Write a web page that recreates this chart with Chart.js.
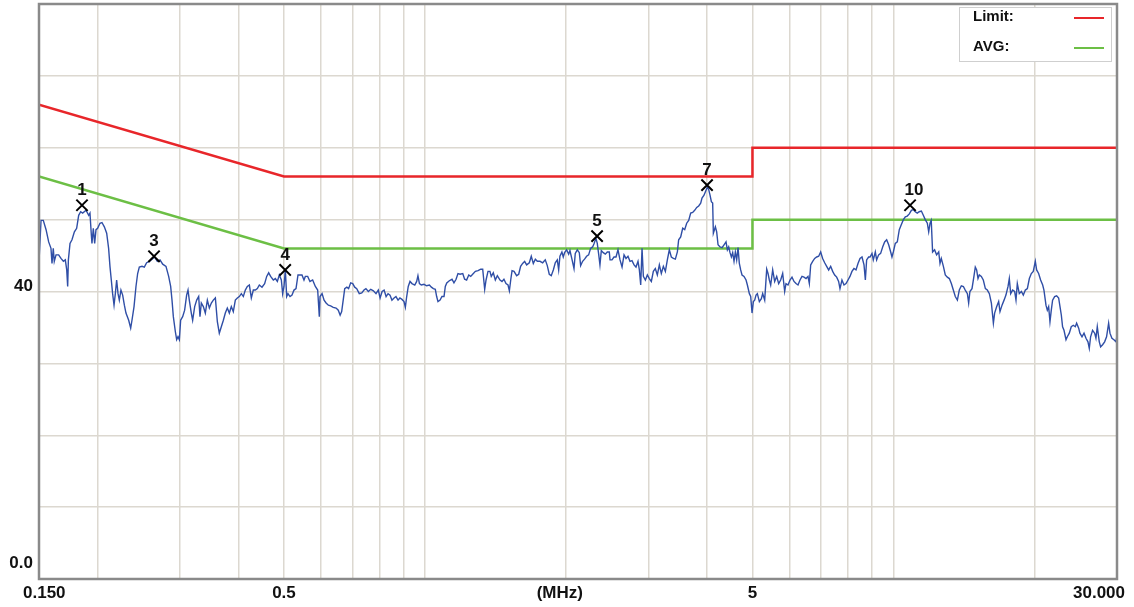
<!DOCTYPE html>
<html>
<head>
<meta charset="utf-8">
<title>Conducted emission scan</title>
<script src="https://cdn.jsdelivr.net/npm/chart.js@4.4.1/dist/chart.umd.min.js"></script>
<style>
  html, body { margin: 0; padding: 0; background: #fff; }
  #wrap { width: 1134px; height: 607px; }
</style>
</head>
<body>
<div id="wrap"><canvas id="scan" width="1134" height="607"></canvas></div>
<script>
// ── Data (MHz / dBuV) ─────────────────────────────────────────
const limitFreq = [0.15, 0.5, 5, 5, 30];
const limitLevel = [66, 56, 56, 60, 60];
const avgFreq = [0.15, 0.5, 5, 5, 30];
const avgLevel = [56, 46, 46, 50, 50];

const markerFreq = [0.1853, 0.264, 0.503, 2.33, 4.0, 10.85];
const markerLevel = [52.0, 44.9, 43.0, 47.7, 54.8, 52.0];
const markerNames = ['1', '3', '4', '5', '7', '10'];

const xGrid = [0.15, 0.2, 0.3, 0.4, 0.5, 0.6, 0.7, 0.8, 0.9, 1, 2, 3, 4, 5, 6, 7, 8, 9, 10, 20, 30];
const xLabelValues = [0.15, 0.5, 1.94, 5, 30];
const xLabelTexts = ['0.150', '0.5', '(MHz)', '5', '30.000'];
const yLabelValues = [0, 40];
const yLabelTexts = ['0.0', '40'];

// measured trace [MHz, dBuV]
const emission = [
  [0.150,44.1],[0.1515,49.9],[0.1532,49.9],[0.1553,48.6],[0.1573,46.9],[0.1591,46.0],[0.1599,43.9],[0.1609,46.0],[0.1617,44.2],[0.1631,45.1],
  [0.1652,45.1],[0.1671,44.6],[0.1691,44.2],[0.1707,44.4],[0.1719,43.0],[0.1727,40.7],[0.1733,44.4],[0.1747,46.7],[0.1764,47.2],[0.1785,48.3],
  [0.1805,48.8],[0.1823,50.6],[0.1841,51.1],[0.1859,50.9],[0.189,51.3],[0.1915,50.6],[0.1927,50.9],[0.194,47.9],[0.1946,46.7],[0.1959,48.8],
  [0.1972,46.7],[0.1985,48.6],[0.2001,48.8],[0.2024,49.5],[0.2044,49.6],[0.2068,49.0],[0.2092,48.1],[0.2112,46.0],[0.2126,43.5],[0.214,41.6],
  [0.2154,39.7],[0.2169,38.1],[0.2183,39.7],[0.2197,41.6],[0.2212,39.7],[0.2226,38.8],[0.2244,40.2],[0.2263,39.5],[0.2282,38.1],[0.230,37.0],
  [0.2331,36.0],[0.2354,34.9],[0.2369,36.0],[0.2393,37.9],[0.2416,40.7],[0.2436,42.5],[0.2456,43.4],[0.2489,43.5],[0.2517,43.4],[0.2546,44.0],
  [0.258,44.2],[0.2614,44.5],[0.2648,44.8],[0.2683,44.2],[0.2719,44.4],[0.2755,43.8],[0.28,43.5],[0.2837,42.1],[0.2865,40.7],[0.2884,38.8],
  [0.2903,36.5],[0.2932,34.4],[0.2951,33.3],[0.297,33.7],[0.299,33.3],[0.3009,36.0],[0.3039,36.5],[0.3069,37.4],[0.3099,39.5],[0.312,40.2],
  [0.314,38.8],[0.3171,37.0],[0.3192,36.0],[0.3224,37.9],[0.3256,38.8],[0.3288,39.3],[0.3309,36.5],[0.3331,38.4],[0.3364,37.9],[0.3397,37.0],
  [0.3431,38.8],[0.3465,37.7],[0.3499,38.4],[0.3533,38.8],[0.3569,39.1],[0.3604,35.8],[0.3639,34.2],[0.3675,35.1],[0.3712,36.0],[0.3748,37.0],
  [0.3785,37.7],[0.3823,37.0],[0.386,37.9],[0.3898,37.2],[0.3937,38.8],[0.3976,39.1],[0.4015,39.3],[0.4055,39.7],[0.4095,39.3],[0.4135,40.2],
  [0.4176,40.7],[0.4218,40.9],[0.4259,39.1],[0.4301,40.2],[0.4344,40.2],[0.4387,40.4],[0.443,40.9],[0.4488,40.6],[0.4547,41.1],[0.4593,42.1],
  [0.4638,42.6],[0.4683,42.1],[0.4745,41.6],[0.4793,41.8],[0.484,41.4],[0.4887,42.3],[0.4936,41.6],[0.4968,39.7],[0.5001,40.7],[0.5034,43.0],
  [0.5067,39.3],[0.51,39.7],[0.5151,39.3],[0.5202,39.5],[0.5253,40.2],[0.5305,40.4],[0.5357,42.3],[0.541,42.3],[0.5463,42.3],[0.5517,41.6],
  [0.5554,42.1],[0.5618,42.1],[0.5682,41.4],[0.5757,41.6],[0.5834,40.7],[0.5901,40.2],[0.5949,36.5],
  [0.597,39.3],[0.603,39.7],[0.609,38.8],[0.615,38.4],[0.622,38.1],[0.629,38.0],[0.637,37.8],[0.646,37.7],[0.653,37.4],[0.659,36.7],
  [0.664,37.2],[0.669,38.8],[0.674,40.4],[0.681,40.6],[0.687,40.4],[0.694,41.2],[0.701,41.1],[0.708,40.6],[0.715,40.4],[0.724,39.7],
  [0.733,39.8],[0.741,40.2],[0.748,40.4],[0.757,40.0],[0.766,40.3],[0.776,40.1],[0.786,39.7],[0.795,40.2],[0.802,39.1],[0.810,40.0],
  [0.818,40.2],[0.826,39.3],[0.834,39.7],[0.842,39.5],[0.850,38.8],[0.859,39.1],[0.867,39.3],[0.876,38.8],[0.884,39.1],[0.893,38.9],
  [0.902,38.6],[0.908,37.8],[0.914,39.3],[0.921,40.7],[0.929,41.4],[0.938,41.1],[0.951,40.9],[0.960,41.4],[0.966,42.2],[0.973,41.1],
  [0.982,40.9],[0.995,41.0],[1.008,40.8],[1.022,40.9],[1.032,40.6],[1.042,40.4],[1.052,40.3],[1.059,39.3],[1.066,38.6],[1.077,38.8],
  [1.087,39.3],[1.098,39.3],[1.105,40.7],[1.113,41.2],[1.127,41.5],[1.142,41.7],[1.153,41.2],[1.165,41.7],[1.176,42.5],[1.188,42.4],
  [1.204,42.5],[1.215,41.7],[1.227,41.6],[1.240,42.3],[1.252,42.1],[1.264,42.4],[1.281,42.8],[1.298,42.9],[1.315,43.1],[1.328,43.1],
  [1.341,40.3],[1.350,41.6],[1.363,42.8],[1.376,42.8],[1.385,42.1],[1.399,42.6],[1.413,41.6],[1.427,42.2],[1.446,41.6],[1.460,41.4],
  [1.474,41.7],[1.489,41.1],[1.504,40.9],[1.514,40.1],[1.524,41.6],[1.534,42.9],[1.549,42.8],[1.569,42.2],[1.585,42.4],[1.600,43.5],
  [1.616,43.9],[1.632,44.2],[1.648,43.7],[1.670,44.0],[1.686,44.9],[1.703,43.9],[1.720,44.5],[1.737,44.2],[1.760,44.2],[1.783,44.0],
  [1.806,44.4],[1.824,43.6],[1.842,42.4],[1.860,42.2],[1.879,43.0],[1.897,44.0],[1.916,44.4],[1.929,43.0],[1.941,44.9],[1.960,45.5],
  [1.973,44.8],[1.986,45.4],[2.006,45.8],[2.026,45.2],[2.039,45.7],[2.059,44.5],[2.080,43.2],[2.093,45.3],[2.114,45.8],[2.135,45.4],
  [2.149,43.6],[2.170,44.2],[2.191,44.5],[2.213,44.9],[2.235,45.1],[2.257,46.0],[2.279,46.2],[2.294,46.6],[2.317,47.4],[2.332,46.7],
  [2.347,45.3],[2.363,43.7],[2.379,45.7],[2.402,45.4],[2.426,45.2],[2.450,45.5],[2.474,45.5],
  [2.483,44.4],[2.507,44.4],[2.532,44.8],[2.557,44.8],[2.582,45.8],[2.608,44.4],[2.634,43.4],[2.660,45.1],[2.686,44.6],[2.712,44.9],
  [2.739,44.2],[2.766,44.3],[2.794,43.7],[2.821,43.4],[2.849,44.2],[2.868,43.0],[2.887,40.9],[2.906,46.0],[2.925,42.1],[2.954,41.6],
  [2.983,42.3],[3.012,41.8],[3.042,41.4],[3.072,42.8],[3.102,43.2],[3.133,42.3],[3.164,43.7],[3.195,42.5],[3.227,43.5],[3.259,42.8],
  [3.291,44.4],[3.323,45.8],[3.356,44.8],[3.390,44.6],[3.423,44.5],[3.457,45.5],[3.479,47.2],[3.514,47.6],[3.549,48.8],[3.584,48.6],
  [3.619,49.5],[3.655,49.9],[3.691,50.9],[3.727,51.0],[3.764,51.3],[3.802,51.7],[3.839,51.9],[3.877,52.3],[3.902,53.0],[3.941,53.4],
  [3.980,54.1],[4.006,54.5],[4.032,54.2],[4.059,53.4],[4.086,52.5],[4.112,52.3],[4.126,48.1],[4.167,49.0],[4.194,48.3],[4.222,46.5],
  [4.264,46.2],[4.306,46.1],[4.348,46.5],[4.391,46.9],[4.420,45.8],[4.449,46.2],[4.478,45.4],[4.508,44.8],[4.537,45.4],[4.567,44.2],
  [4.597,45.5],[4.627,44.4],[4.658,46.1],[4.688,43.9],[4.719,43.0],[4.750,42.3],[4.797,42.1],[4.845,41.6],[4.877,40.9],[4.925,39.7],
  [4.957,39.3],[4.990,37.0],[5.022,38.6],[5.055,38.8],[5.089,39.5],[5.122,39.7],[5.173,38.6],[5.224,39.0],[5.258,39.7],[5.310,38.8],
  [5.363,43.1],[5.398,42.5],[5.433,41.6],[5.469,40.9],[5.523,43.0],[5.577,41.4],[5.633,42.1],[5.688,41.1],[5.744,41.6],[5.801,42.5],
  [5.858,40.0],[5.896,41.1],[5.955,40.9],[6.014,41.6],[6.073,42.0],[6.133,41.4],[6.194,41.1],[6.255,40.9],[6.317,41.6],[6.379,42.1],
  [6.442,42.0],[6.506,41.8],[6.570,42.1],[6.613,41.1],[6.657,43.7],[6.723,44.2],[6.789,44.6],[6.856,44.8],[6.924,44.9],[6.992,45.5],
  [7.060,44.6],[7.131,44.0],[7.201,43.5],[7.272,43.0],[7.344,43.5],[7.417,42.8],[7.490,42.3],[7.564,42.0],[7.637,41.4],[7.688,40.4],
  [7.763,41.6],[7.842,40.9],[7.919,41.1],[7.998,41.6],[8.075,42.1],[8.154,42.8],[8.235,43.2],[8.318,43.0],[8.400,43.9],[8.483,44.6],
  [8.567,44.8],[8.652,43.7],[8.709,41.6],[8.764,44.4],[8.850,44.8],
  [8.910,44.8],[8.998,45.3],[9.056,44.4],[9.146,45.5],[9.206,44.4],[9.297,45.1],[9.389,45.3],[9.482,46.2],[9.575,46.9],[9.671,47.2],
  [9.767,46.5],[9.864,45.5],[9.926,44.8],[9.992,45.5],[10.09,46.7],[10.19,46.9],[10.29,48.6],[10.39,49.3],[10.50,50.0],[10.60,50.4],
  [10.70,50.5],[10.81,50.8],[10.92,51.3],[11.02,51.4],[11.13,51.1],[11.24,50.9],[11.35,51.1],[11.47,51.2],[11.58,50.6],[11.69,50.0],
  [11.81,49.5],[11.89,48.3],[11.97,49.5],[12.04,49.9],[12.12,45.5],[12.24,45.8],[12.36,45.1],[12.49,45.5],[12.57,43.9],[12.65,44.6],
  [12.78,43.5],[12.90,42.3],[13.03,42.0],[13.16,41.8],[13.29,41.1],[13.42,40.2],[13.55,39.3],[13.69,38.8],[13.82,40.2],[13.96,40.8],
  [14.10,40.7],[14.23,40.2],[14.38,39.7],[14.47,38.4],[14.56,40.0],[14.71,40.4],[14.85,42.1],[14.95,43.4],[15.05,43.0],[15.15,41.8],
  [15.25,42.3],[15.40,42.1],[15.55,41.6],[15.71,40.4],[15.86,40.2],[16.02,39.7],[16.18,38.4],[16.34,35.6],[16.44,37.0],[16.61,37.9],
  [16.77,38.6],[16.88,37.2],[17.05,38.1],[17.22,38.8],[17.38,39.5],[17.56,40.7],[17.67,41.8],[17.79,39.7],[17.96,40.2],[18.14,40.0],
  [18.26,38.8],[18.38,41.1],[18.56,39.7],[18.75,40.0],[18.93,39.5],[19.12,40.2],[19.31,40.4],[19.50,41.8],[19.69,42.5],[19.88,42.8],
  [20.08,44.2],[20.21,43.0],[20.41,42.5],[20.61,41.6],[20.82,40.9],[20.95,40.2],[21.16,38.1],[21.30,37.4],[21.44,37.9],[21.58,35.8],
  [21.72,37.4],[21.86,38.8],[22.08,39.3],[22.30,39.4],[22.52,39.1],[22.67,37.9],[22.82,36.7],[22.96,35.1],[23.12,34.6],[23.35,33.3],
  [23.50,33.7],[23.73,34.2],[23.96,35.1],[24.20,35.3],[24.44,35.1],[24.60,35.6],[24.85,34.9],[25.00,34.2],[25.26,33.7],[25.51,34.2],
  [25.76,33.5],[26.01,33.0],[26.18,32.1],[26.35,33.7],[26.61,34.6],[26.88,34.2],[27.05,33.5],[27.23,35.1],[27.50,33.0],[27.68,32.3],
  [27.95,32.6],[28.23,33.0],[28.50,33.7],[28.79,35.6],[28.98,34.2],[29.26,33.5],[29.55,33.3],[29.85,33.0],[30.0,33.9]
];

// ── Colours / fonts ───────────────────────────────────────────
const red = '#e8262a';
const green = '#6cbf45';
const blue = '#2f4ea6';
const gridColor = '#dcd8d0';
const frameColor = '#8a8a8a';
const labelFont = 'bold 17px "Liberation Sans", Arial, sans-serif';

const toXY = (xs, ys) => xs.map((x, i) => ({ x, y: ys[i] }));

// ── Overlay: frame, axis text, marker numbers, legend ─────────
const overlay = {
  id: 'overlay',
  afterDraw(chart) {
    const { ctx, chartArea: a, scales } = chart;
    const xs = scales.x, ys = scales.y;
    ctx.save();

    // plot frame
    ctx.strokeStyle = frameColor;
    ctx.lineWidth = 2.5;
    ctx.strokeRect(a.left, a.top, a.right - a.left, a.bottom - a.top);

    ctx.fillStyle = '#111';
    ctx.font = labelFont;
    ctx.textBaseline = 'middle';

    // y labels
    ctx.textAlign = 'right';
    yLabelValues.forEach((v, i) => {
      const py = ys.getPixelForValue(v) - (v === 0 ? 16 : 5);
      ctx.fillText(yLabelTexts[i], a.left - 6, py);
    });

    // x labels
    xLabelValues.forEach((v, i) => {
      let px = xs.getPixelForValue(v);
      if (i === 0) { ctx.textAlign = 'left'; px -= 16; }
      else if (i === xLabelValues.length - 1) { ctx.textAlign = 'right'; px += 8; }
      else ctx.textAlign = 'center';
      ctx.fillText(xLabelTexts[i], px, a.bottom + 14);
    });

    // marker numbers
    ctx.textAlign = 'center';
    const meta = chart.getDatasetMeta(3);
    meta.data.forEach((pt, i) => {
      ctx.fillText(markerNames[i], pt.x + (markerNames[i].length > 1 ? 4 : 0), pt.y - 15);
    });

    // legend box
    const bx = a.right - 158, by = a.top + 3, bw = 152, bh = 54;
    ctx.fillStyle = '#fff';
    ctx.fillRect(bx, by, bw, bh);
    ctx.strokeStyle = '#cfcfcf';
    ctx.lineWidth = 1;
    ctx.strokeRect(bx + 0.5, by + 0.5, bw, bh);
    ctx.font = 'bold 15px "Liberation Sans", Arial, sans-serif';
    ctx.textAlign = 'left';
    ctx.fillStyle = '#111';
    [chart.data.datasets[1], chart.data.datasets[2]].forEach((ds, i) => {
      const ly = by + 10 + i * 30;
      ctx.fillText(ds.label + ':', bx + 14, ly);
      ctx.strokeStyle = ds.borderColor;
      ctx.lineWidth = 2;
      ctx.beginPath();
      ctx.moveTo(bx + 115, ly + 1);
      ctx.lineTo(bx + 145, ly + 1);
      ctx.stroke();
    });
    ctx.restore();
  }
};

new Chart(document.getElementById('scan'), {
  type: 'line',
  data: {
    datasets: [
      {
        label: 'Trace',
        data: emission.map(p => ({ x: p[0], y: p[1] })),
        borderColor: blue, borderWidth: 1.4,
        pointRadius: 0, tension: 0, order: 1,
      },
      {
        label: 'Limit',
        data: toXY(limitFreq, limitLevel),
        borderColor: red, borderWidth: 2.5,
        pointRadius: 0, tension: 0, order: 3,
      },
      {
        label: 'AVG',
        data: toXY(avgFreq, avgLevel),
        borderColor: green, borderWidth: 2.5,
        pointRadius: 0, tension: 0, order: 2,
      },
      {
        label: 'Markers',
        data: toXY(markerFreq, markerLevel),
        showLine: false,
        pointStyle: 'crossRot', pointRadius: 8,
        pointBorderColor: '#000', pointBorderWidth: 2,
        order: 0,
      }
    ]
  },
  options: {
    responsive: false,
    animation: false,
    layout: { autoPadding: false, padding: { left: 39, right: 17, top: 4, bottom: 28 } },
    plugins: { legend: { display: false }, tooltip: { enabled: false } },
    scales: {
      x: {
        type: 'logarithmic', min: 0.15, max: 30,
        afterBuildTicks: s => { s.ticks = xGrid.map(v => ({ value: v })); },
        ticks: { display: false },
        grid: { color: gridColor, lineWidth: 1.5, drawTicks: false },
        border: { display: false }
      },
      y: {
        min: 0, max: 80,
        ticks: { display: false, stepSize: 10 },
        grid: { color: gridColor, lineWidth: 1.5, drawTicks: false },
        border: { display: false }
      }
    }
  },
  plugins: [overlay]
});
</script>
</body>
</html>
